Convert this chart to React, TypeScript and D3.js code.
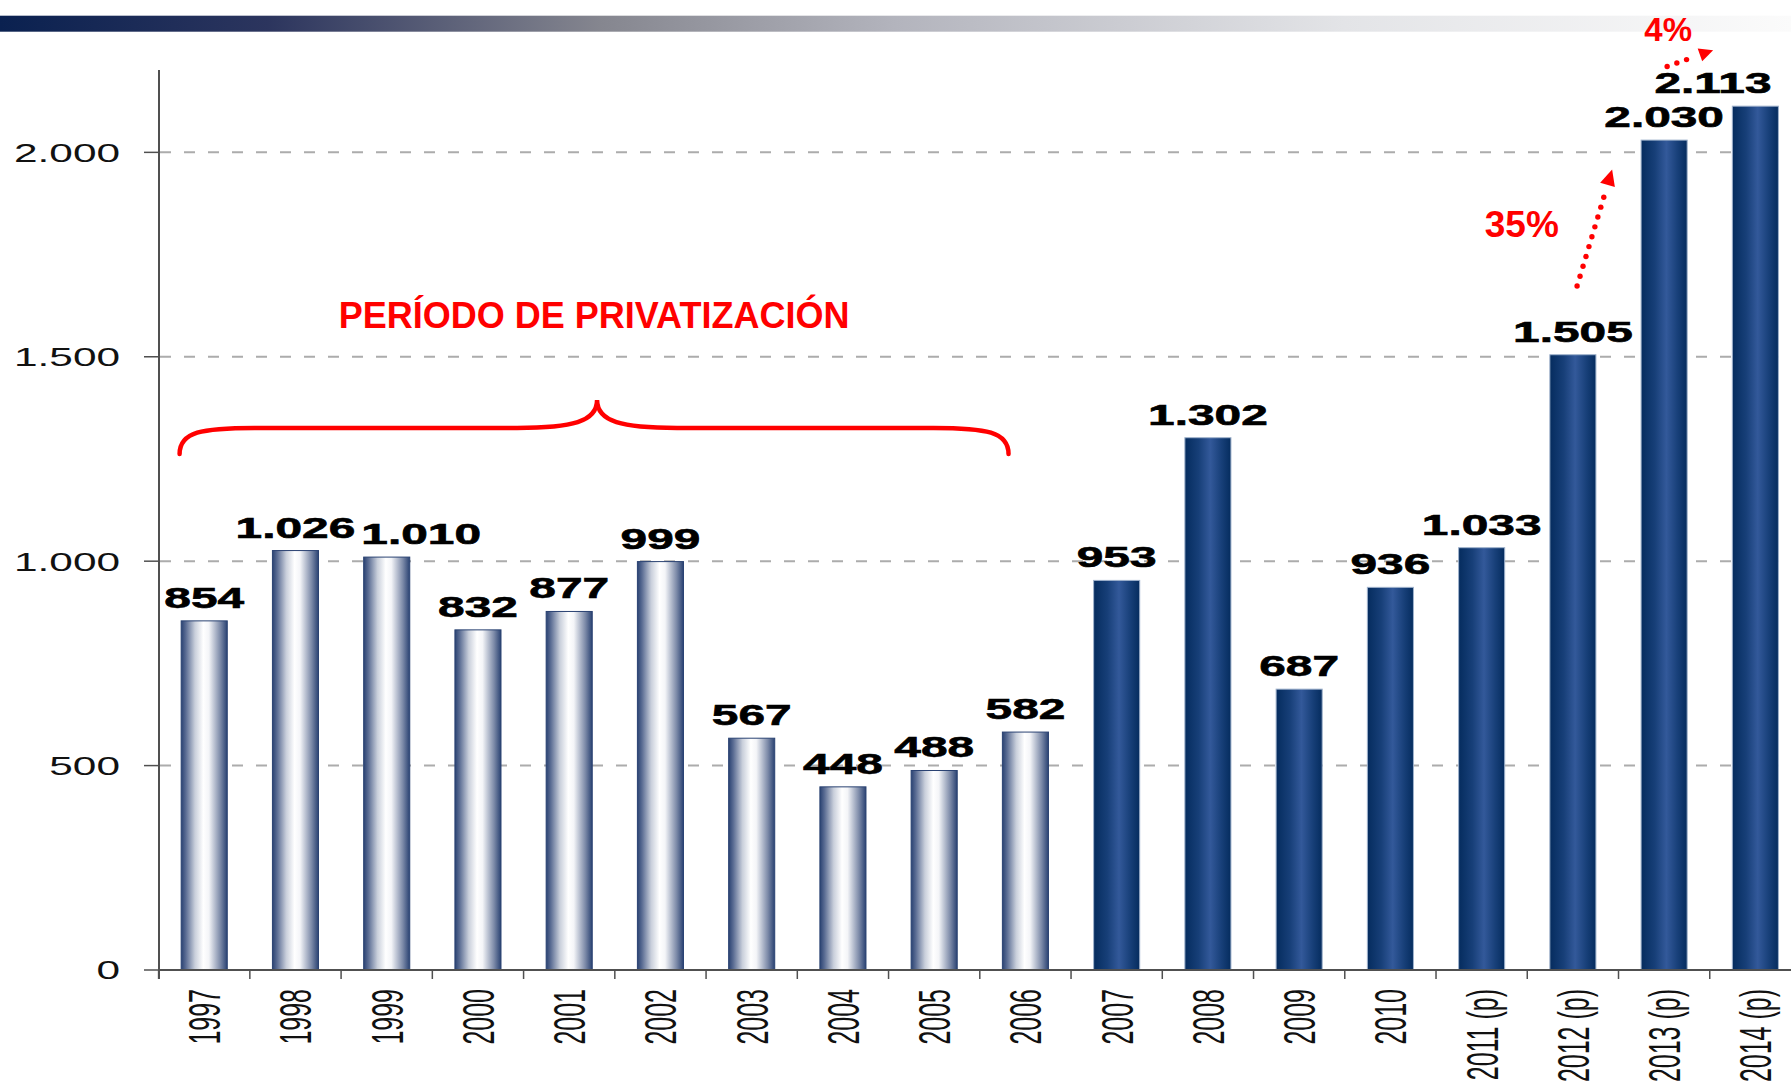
import React from "react";
import * as d3 from "d3";

// chart data
const years = [
  "1997", "1998", "1999", "2000", "2001", "2002", "2003", "2004", "2005",
  "2006", "2007", "2008", "2009", "2010", "2011 (p)", "2012 (p)", "2013 (p)", "2014 (p)",
];
const values = [854, 1026, 1010, 832, 877, 999, 567, 448, 488, 582, 953, 1302, 687, 936, 1033, 1505, 2030, 2113];
const privatized = years.slice(0, 10);
const yTicks = [0, 500, 1000, 1500, 2000];
const periodLabel = "PERÍODO DE PRIVATIZACIÓN";
const growthNotes = [
  { label: "35%", from: "2012 (p)", to: "2013 (p)" },
  { label: "4%", from: "2013 (p)", to: "2014 (p)" },
];

const W = 1791;
const H = 1084;
const FONT = "'Liberation Sans', Arial, sans-serif";

const locale = d3.formatLocale({ decimal: ",", thousands: ".", grouping: [3], currency: ["", ""] });
const fmt = locale.format(",d");

const LABEL_SIZE = 29;
const LABEL_SX = 1.65;
// rough width of a bold label (Arial metrics), used only to keep labels apart
const labelWidth = (s: string) =>
  s.split("").reduce((w, ch) => w + (ch === "." ? 0.278 : 0.556), 0) * LABEL_SIZE * LABEL_SX;

export default function App() {
  // scales (the original chart runs a little past the right edge of the picture)
  const x = d3.scaleBand<string>().domain(years).range([158.6, 1801]).padding(0);
  const y = d3.scaleLinear().domain([0, 2200]).range([970, 70.6]);
  const bw = x.bandwidth();
  const barW = bw * 0.505;
  const barOff = (bw - barW) / 2;
  const cx = (c: string) => (x(c) ?? 0) + bw / 2;
  const px = (c: string, f: number) => (x(c) ?? 0) + f * bw;

  // value labels: centred on the bar, pushed right when they would hit the previous one
  const labels: { x: number; y: number; w: number; text: string }[] = [];
  years.forEach((c, i) => {
    const text = fmt(values[i]);
    const w = labelWidth(text);
    let lx = Math.min(cx(c), W - 78);
    const ly = y(values[i]) - 13;
    const prev = labels[labels.length - 1];
    if (prev && Math.abs(prev.y - ly) < 24) {
      const minX = prev.x + prev.w / 2 + w / 2 + 6;
      if (lx < minX) lx = minX;
    }
    labels.push({ x: lx, y: ly, w, text });
  });

  // brace over the privatization period
  const bx0 = px(privatized[0], 0.23);
  const bx1 = px(privatized[privatized.length - 1], 0.315);
  const bxc = (bx0 + bx1) / 2 + 3;
  const yEnd = y(1262);
  const yMid = y(1326);
  const yPeak = y(1394);
  const brace = d3.path();
  brace.moveTo(bx0, yEnd);
  brace.bezierCurveTo(bx0, yMid + 4, bx0 + 22, yMid, bx0 + 75, yMid);
  brace.lineTo(bxc - 80, yMid);
  brace.bezierCurveTo(bxc - 25, yMid, bxc, yMid - 6, bxc, yPeak);
  brace.bezierCurveTo(bxc, yMid - 6, bxc + 25, yMid, bxc + 80, yMid);
  brace.lineTo(bx1 - 75, yMid);
  brace.bezierCurveTo(bx1 - 22, yMid, bx1, yMid + 4, bx1, yEnd);

  // dotted growth arrows
  const arrowDefs = [
    { start: [px(growthNotes[0].from, 0.546), y(1673)], tip: [px(growthNotes[0].from, 0.93), y(1958)], text: [px(growthNotes[0].from, -0.06), y(1792)], size: 37, head: 16 },
    { start: [px(growthNotes[1].from, 0.533), y(2210)], tip: [px(growthNotes[1].from, 1.037), y(2250)], text: [px(growthNotes[1].from, 0.544), y(2273)], size: 33, head: 14 },
  ];

  const arrows = arrowDefs.map((a, i) => {
    const [x0, y0] = a.start;
    const [x1, y1] = a.tip;
    const len = Math.hypot(x1 - x0, y1 - y0);
    const ux = (x1 - x0) / len;
    const uy = (y1 - y0) / len;
    const dotsLen = len - a.head - 4;
    const n = Math.floor(dotsLen / 10.3);
    const dots = d3.range(n + 1).map((k) => [x0 + ux * k * 10.3, y0 + uy * k * 10.3]);
    const bxp = x1 - ux * a.head;
    const byp = y1 - uy * a.head;
    const hw = a.head * 0.48;
    const head = `M${x1},${y1}L${bxp - uy * hw},${byp + ux * hw}L${bxp + uy * hw},${byp - ux * hw}Z`;
    return (
      <g key={i} fill="#ff0000">
        {dots.map((d, k) => (
          <circle key={k} cx={d[0]} cy={d[1]} r={2.7} />
        ))}
        <path d={head} />
        <text x={a.text[0]} y={a.text[1]} textAnchor="middle" fontFamily={FONT} fontWeight="bold" fontSize={a.size}>
          {growthNotes[i].label}
        </text>
      </g>
    );
  });

  return (
    <div style={{ position: "fixed", left: 0, top: 0, width: W, height: H, overflow: "hidden", background: "#fff" }}>
      <svg width={W} height={H} style={{ display: "block" }}>
        <defs>
          <linearGradient id="topband" x1="0" x2="1" y1="0" y2="0">
            <stop offset="0" stopColor="#0a2150" />
            <stop offset="0.15" stopColor="#2c355e" />
            <stop offset="0.335" stopColor="#85868f" />
            <stop offset="0.5" stopColor="#b3b4bd" />
            <stop offset="0.75" stopColor="#e3e4e7" />
            <stop offset="1" stopColor="#fbfbfb" />
          </linearGradient>
          <linearGradient id="lightbar" x1="0" x2="1" y1="0" y2="0">
            <stop offset="0" stopColor="#2a4272" />
            <stop offset="0.1" stopColor="#5a6c93" />
            <stop offset="0.3" stopColor="#c9cfdb" />
            <stop offset="0.48" stopColor="#ffffff" />
            <stop offset="0.6" stopColor="#f4f5f8" />
            <stop offset="0.85" stopColor="#7c8aa8" />
            <stop offset="1" stopColor="#2a4272" />
          </linearGradient>
          <linearGradient id="darkbar" x1="0" x2="1" y1="0" y2="0">
            <stop offset="0" stopColor="#052c5e" />
            <stop offset="0.3" stopColor="#173f78" />
            <stop offset="0.55" stopColor="#33599a" />
            <stop offset="0.8" stopColor="#173f78" />
            <stop offset="1" stopColor="#052c5e" />
          </linearGradient>
        </defs>

        {/* header band */}
        <rect x={0} y={15.7} width={W} height={16} fill="url(#topband)" />

        {/* grid */}
        {yTicks.filter((t) => t > 0).map((t) => (
          <line key={t} x1={160} x2={W} y1={y(t)} y2={y(t)} stroke="#acacac" strokeWidth={2} strokeDasharray="11 13" />
        ))}

        {/* bars */}
        {years.map((c, i) => {
          const light = privatized.includes(c);
          return (
            <rect
              key={c}
              x={(x(c) ?? 0) + barOff}
              y={y(values[i])}
              width={barW}
              height={y(0) - y(values[i])}
              fill={light ? "url(#lightbar)" : "url(#darkbar)"}
              stroke={light ? "#2a4272" : "#9fb2cc"}
              strokeWidth={1}
            />
          );
        })}

        {/* y axis */}
        <line x1={159} x2={159} y1={70} y2={979} stroke="#505050" strokeWidth={2} />
        {yTicks.map((t) => (
          <g key={t}>
            <line x1={144} x2={159} y1={y(t)} y2={y(t)} stroke="#505050" strokeWidth={1.5} />
            <text
              transform={`translate(120,${y(t) + 9.4}) scale(1.63,1)`}
              textAnchor="end"
              fontFamily={FONT}
              fontSize={26}
              fill="#111"
            >
              {fmt(t)}
            </text>
          </g>
        ))}

        {/* x axis */}
        <line x1={159} x2={1801} y1={y(0)} y2={y(0)} stroke="#505050" strokeWidth={2} />
        {years.map((c) => (
          <g key={c}>
            <line x1={x(c)} x2={x(c)} y1={y(0)} y2={y(0) + 9} stroke="#505050" strokeWidth={1.5} />
            <text
              transform={`translate(${cx(c) + 16},989) scale(1.78,1) rotate(-90)`}
              textAnchor="end"
              fontFamily={FONT}
              fontSize={25}
              fill="#111"
            >
              {c}
            </text>
          </g>
        ))}

        {/* value labels */}
        {labels.map((l, i) => (
          <text
            key={i}
            transform={`translate(${l.x},${l.y}) scale(${LABEL_SX},1)`}
            textAnchor="middle"
            fontFamily={FONT}
            fontWeight="bold"
            fontSize={LABEL_SIZE}
            fill="#000"
            stroke="#000"
            strokeWidth={0.6}
          >
            {l.text}
          </text>
        ))}

        {/* privatization brace */}
        <path d={brace.toString()} fill="none" stroke="#ff0000" strokeWidth={4.5} strokeLinecap="round" />
        <text x={(bx0 + bx1) / 2} y={y(1570)} textAnchor="middle" fontFamily={FONT} fontWeight="bold" fontSize={36} fill="#ff0000">
          {periodLabel}
        </text>

        {arrows}
      </svg>
    </div>
  );
}
